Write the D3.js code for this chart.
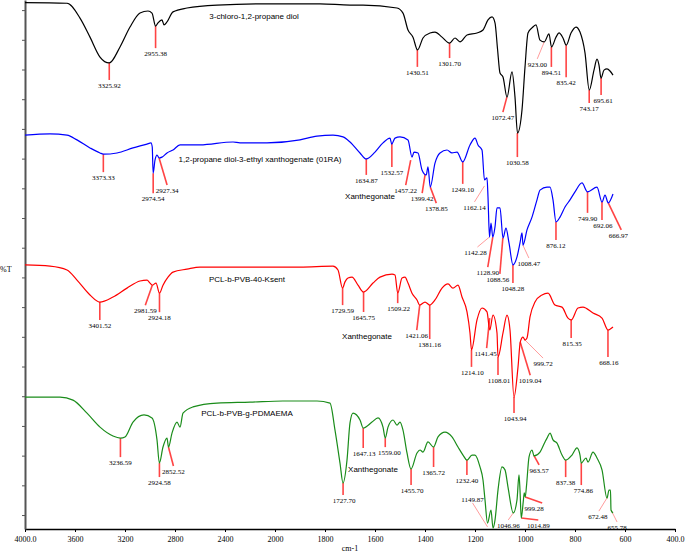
<!DOCTYPE html>
<html>
<head>
<meta charset="utf-8">
<script src="https://cdn.jsdelivr.net/npm/d3@7"></script>
<style>
body { margin: 0; background: #fff; }
.peak { font-family: "Liberation Serif", "Times New Roman", serif; font-size: 7px; fill: #000; }
.name { font-family: "Liberation Sans", Arial, sans-serif; font-size: 8px; fill: #000; }
.tick text { font-family: "Liberation Serif", "Times New Roman", serif; font-size: 8px; }
</style>
</head>
<body>
<svg></svg>
<script>
const width = 685;
const height = 552;

// spectra: [wavenumber cm-1, stacked %T]
const chloroDiol = [[4000,172.5],[3664,172.3],[3560,167.3],[3480,160.9],[3400,154.2],[3326,152.2],[3240,157.6],[3160,164.3],[3080,169.0],[3016,169.7],[2984,169.0],[2955,164.6],[2936,165.7],[2904,166.7],[2888,165.0],[2864,166.0],[2816,169.4],[2704,170.7],[2464,171.7],[2064,172.1],[1820,172.1],[1700,171.7],[1648,171.7],[1512,170.7],[1488,169.0],[1468,163.3],[1448,160.9],[1430,156.6],[1408,160.6],[1380,162.3],[1360,162.6],[1332,160.9],[1302,158.9],[1280,160.6],[1260,159.3],[1232,161.6],[1192,162.3],[1168,163.3],[1148,166.7],[1132,167.7],[1120,165.7],[1110,157.0],[1100,148.8],[1088,147.5],[1072,140.7],[1052,149.2],[1040,140.7],[1030,128.6],[1012,136.4],[1000,150.8],[988,162.3],[972,164.0],[956,165.0],[940,159.9],[923,159.3],[904,162.0],[894,157.6],[876,160.9],[864,162.3],[848,160.6],[835,158.2],[816,162.3],[796,164.3],[780,162.6],[760,155.6],[743,143.1],[724,149.8],[712,153.5],[704,151.5],[696,147.1],[684,149.8],[672,150.2],[660,149.5],[648,148.1]];

const xanthogenate = [[4000,127.9],[3800,128.3],[3664,127.9],[3584,126.3],[3480,123.6],[3400,121.9],[3373,121.5],[3264,121.9],[3136,123.6],[3024,124.9],[2992,125.3],[2982,123.9],[2975,115.1],[2960,119.5],[2944,121.2],[2927,120.2],[2904,120.5],[2864,121.9],[2816,122.9],[2760,124.6],[2600,124.6],[2336,125.6],[2280,125.3],[2064,125.3],[1900,126.3],[1832,127.6],[1768,127.9],[1728,127.3],[1700,125.6],[1660,121.9],[1635,119.9],[1600,122.2],[1568,125.3],[1540,126.9],[1533,124.9],[1520,126.9],[1500,127.3],[1468,126.3],[1452,120.5],[1444,122.2],[1428,121.9],[1412,116.2],[1395,114.5],[1388,117.2],[1379,110.4],[1360,118.5],[1340,121.9],[1312,122.9],[1292,121.9],[1272,122.2],[1249,118.9],[1220,124.6],[1200,126.9],[1188,124.6],[1172,122.9],[1162,112.8],[1152,113.5],[1148,107.1],[1142,93.6],[1136,98.3],[1129,93.6],[1120,97.0],[1112,103.4],[1100,103.4],[1088,93.3],[1076,96.6],[1064,91.6],[1048,84.2],[1032,86.9],[1020,91.6],[1012,95.0],[1008,90.9],[992,96.0],[972,100.3],[952,106.1],[940,109.4],[912,110.4],[900,110.4],[888,106.1],[876,98.7],[860,100.3],[840,103.7],[820,106.1],[800,108.8],[772,111.8],[750,108.8],[712,110.4],[692,105.4],[680,107.7],[667,105.1],[648,108.1]];

const pclKsent = [[4000,84.2],[3800,83.8],[3664,82.5],[3584,79.1],[3480,74.1],[3402,71.7],[3296,73.4],[3184,76.4],[3080,78.8],[3024,79.1],[3000,78.1],[2982,77.4],[2952,78.1],[2924,74.7],[2896,77.4],[2856,80.1],[2816,81.8],[2704,82.8],[2600,83.5],[2336,83.5],[2064,83.5],[1900,83.5],[1768,83.8],[1748,82.5],[1730,76.4],[1720,78.5],[1708,79.8],[1692,80.1],[1668,77.4],[1646,75.1],[1608,78.1],[1580,80.1],[1532,81.1],[1520,80.8],[1509,74.7],[1492,79.8],[1480,80.1],[1468,78.1],[1452,74.7],[1432,72.4],[1421,70.7],[1400,71.7],[1381,70.7],[1360,72.4],[1332,76.4],[1308,77.8],[1288,76.4],[1268,77.4],[1252,73.4],[1232,68.4],[1220,61.3],[1214,55.6],[1192,65.7],[1172,69.7],[1152,68.4],[1141,62.3],[1128,67.3],[1112,61.3],[1108,53.2],[1088,61.3],[1072,67.3],[1060,62.3],[1044,39.7],[1028,49.8],[1019,58.2],[1008,59.9],[1000,58.9],[992,59.6],[980,66.7],[960,71.7],[932,74.1],[908,74.7],[880,70.7],[852,70.0],[828,66.3],[815,65.7],[788,69.7],[768,70.0],[728,68.0],[692,66.3],[668,62.3],[648,63.3]];

const pclPdmaema = [[4000,39.7],[3720,39.7],[3616,38.7],[3504,34.3],[3400,29.6],[3296,26.6],[3237,25.9],[3200,26.3],[3136,31.3],[3048,33.7],[2984,32.7],[2944,25.3],[2925,17.5],[2896,22.9],[2864,25.9],[2852,22.9],[2824,27.6],[2784,31.3],[2760,29.6],[2736,34.3],[2656,36.4],[2464,37.7],[2200,38.0],[1968,38.4],[1832,38.4],[1780,37.7],[1760,28.6],[1740,17.5],[1728,10.8],[1712,18.5],[1700,31.0],[1688,34.3],[1660,32.0],[1647,29.3],[1612,31.3],[1588,32.7],[1568,29.6],[1559,25.9],[1548,29.6],[1528,32.0],[1512,30.3],[1500,31.3],[1488,28.6],[1472,20.9],[1456,15.5],[1432,20.9],[1420,21.9],[1408,21.2],[1388,24.6],[1366,22.9],[1348,26.3],[1320,27.9],[1292,26.3],[1268,22.9],[1248,20.2],[1232,18.5],[1212,20.2],[1200,20.2],[1180,16.2],[1168,11.8],[1160,5.1],[1150,-2.7],[1136,1.7],[1128,-4.4],[1120,-1.7],[1108,8.4],[1092,16.2],[1080,15.2],[1068,9.4],[1047,0.7],[1032,5.1],[1024,13.5],[1020,8.4],[1015,-1.0],[1007,4.5],[1003,7.5],[999,6.1],[994,9.8],[984,19.5],[972,21.9],[964,19.9],[940,21.2],[920,24.6],[912,25.9],[900,27.6],[888,25.3],[872,24.2],[852,20.2],[837,18.5],[812,20.2],[792,22.6],[780,20.2],[775,17.5],[756,19.2],[748,17.8],[728,21.2],[712,19.2],[692,15.2],[672,5.7],[664,8.4],[658,8.4],[656,1.7],[648,0.7]];

// labelled peaks: [wavenumber, %T at the tip]
const chloroPeaks = [[3325.92,152.2],[2955.38,164.6],[1430.51,156.6],[1301.70,158.9],[1072.47,140.7],[1030.58,128.6],[923.00,159.3],[894.51,157.6],[835.42,158.2],[743.17,143.1],[695.61,147.1]];
const xanthPeaks = [[3373.33,121.5],[2974.54,115.1],[2927.34,120.2],[1634.87,119.9],[1532.57,124.9],[1457.22,119.5],[1399.42,114.8],[1378.85,110.4],[1249.10,118.9],[1162.14,110.8],[1142.28,93.6],[1128.90,93.6],[1088.56,93.3],[1048.28,84.2],[1008.47,90.9],[876.12,98.7],[749.90,108.8],[692.06,105.4],[666.97,105.1]];
const ksentPeaks = [[3401.52,71.7],[2981.59,77.4],[2924.18,74.7],[1729.59,76.4],[1645.75,75.1],[1509.22,74.7],[1421.06,70.7],[1381.16,70.7],[1214.10,55.6],[1141.45,66.3],[1108.01,53.2],[1043.94,39.7],[1019.04,58.2],[999.72,58.9],[815.35,65.7],[668.16,62.3]];
const pdmaemaPeaks = [[3236.59,25.9],[2924.58,17.5],[2852.52,22.9],[1727.70,10.8],[1647.13,29.3],[1559.00,25.9],[1455.70,15.5],[1365.72,22.9],[1232.40,18.5],[1149.87,-4.0],[1046.96,0.7],[1014.89,-1.0],[999.28,6.1],[963.57,19.9],[837.38,18.5],[774.86,17.5],[672.48,5.7],[655.78,1.7]];

// leader layout in px: [dx, dy, text dx, thin]
const chloroLeaders = [[0,17],[0,22],[0,17],[0,15],[-4,15],[0,24],[-7,17,0,1],[0,20],[0,32],[0,13],[0,17,2]];
const xanthLeaders = [[0,18],[0,20],[8,27],[0,16],[0,23],[-5,25],[-3,19],[6,16],[0,22],[-10,16,0,1],[-12,10,-2,1],[-5,30],[-3,36,-2],[0,18],[6,13,0,1],[0,18],[0,21],[0,18,1],[13,27,-3]];
const ksentLeaders = [[0,18],[-7,20],[0,19],[0,17],[0,20],[0,10,1],[-3,25],[0,34],[0,17,1],[-3,30,-1],[0,18,1],[0,16,1],[10,33],[18,18,0,1],[0,18,1],[0,27,1]];
const pdmaemaLeaders = [[0,19],[0,14],[5,19],[0,12,1],[0,20,1],[0,9,4],[0,16,1],[0,20],[0,15],[-15,-24,0,1],[-5,7,0,1],[17,2],[17,6,-8],[5,9],[0,17],[0,22,2],[-8,13,-1,1],[6,12,0,1]];

const names = ["3-chloro-1,2-propane diol", "1,2-propane diol-3-ethyl xanthogenate (01RA)", "PCL-b-PVB-40-Ksent", "PCL-b-PVB-g-PDMAEMA"];
const namePos = [[2168,168.0],[2120,119.9],[2224,79.5],[2224,34.3]];
const xanthNotes = [[1620,107.4],[1632,60.3],[1608,15.5]];
const colors = ["#000000", "#0000ff", "#ff0000", "#1a8c1a"];

const xTicks = [4000,3600,3200,2800,2400,2000,1800,1600,1400,1200,1000,800,600,400];
const yTicks = d3.range(0, 171, 10);

let svg = d3.select("svg").attr("width", width).attr("height", height);

// split wavenumber axis: 4000-2000 compressed
const scaleX = d3.scaleLinear().domain([4000, 2000, 400]).range([25, 275, 675]);
const scaleY = d3.scaleLinear().domain([-4.7, 173.4]).range([529, 0]);

function createAxis() {
    let axisX = d3.axisBottom(scaleX)
        .tickValues(xTicks)
        .tickSize(3)
        .tickSizeOuter(0)
        .tickPadding(4)
        .tickFormat(d => (d === 4000 || d === 400) ? d.toFixed(1) : d);
    let gx = svg.append("g")
        .attr("transform", "translate(0, 529)")
        .call(axisX);
    gx.select(".domain").attr("stroke", "#000").attr("stroke-width", 1.5);

    let axisY = d3.axisLeft(scaleY).tickValues(yTicks).tickSize(3).tickSizeOuter(0).tickFormat("");
    let gy = svg.append("g")
        .attr("transform", "translate(25, 0)")
        .call(axisY);
    gy.select(".domain").attr("stroke", "#555").attr("stroke-width", 2);
    gy.selectAll(".tick line").attr("stroke", "#555");

    svg.append("text").attr("x", 0).attr("y", 272)
        .style("font-family", "Liberation Serif, serif").style("font-size", "8px").text("%T");
    svg.append("text").attr("x", 350).attr("y", 551).attr("text-anchor", "middle")
        .style("font-family", "Liberation Serif, serif").style("font-size", "8px").text("cm-1");
}

function drawLeaders(peaks, leaders) {
    peaks.forEach((p, i) => {
        const [dx, dy, tdx = 0, thin = 0] = leaders[i];
        const x0 = scaleX(p[0]);
        const y0 = scaleY(p[1]);
        svg.append("line")
            .attr("x1", x0).attr("y1", y0)
            .attr("x2", x0 + dx).attr("y2", y0 + dy)
            .attr("stroke", thin ? "#ff9c9c" : "#ff4444")
            .attr("stroke-width", thin ? 1 : 1.6);
        svg.append("text")
            .attr("class", "peak")
            .attr("x", x0 + dx + tdx)
            .attr("y", dy > 0 ? y0 + dy + 8 : y0 + dy - 1)
            .attr("text-anchor", "middle")
            .text(p[0].toFixed(2));
    });
}

function drawSpectrum(data, color) {
    let line = d3.line()
        .x(d => scaleX(d[0]))
        .y(d => scaleY(d[1]))
        .curve(d3.curveMonotoneX);
    svg.append("path")
        .datum(data)
        .attr("d", line)
        .attr("fill", "none")
        .attr("stroke", color)
        .attr("stroke-width", 1.2);
}

createAxis();

const spectra = [chloroDiol, xanthogenate, pclKsent, pclPdmaema];
const peakSets = [chloroPeaks, xanthPeaks, ksentPeaks, pdmaemaPeaks];
const leaderSets = [chloroLeaders, xanthLeaders, ksentLeaders, pdmaemaLeaders];

for (let i = 0; i < spectra.length; i++) {
    drawLeaders(peakSets[i], leaderSets[i]);
    drawSpectrum(spectra[i], colors[i]);
    svg.append("text")
        .attr("class", "name")
        .attr("x", scaleX(namePos[i][0]))
        .attr("y", scaleY(namePos[i][1]))
        .attr("dy", "0.35em")
        .attr("text-anchor", "middle")
        .text(names[i]);
}

xanthNotes.forEach(d => {
    svg.append("text")
        .attr("class", "name")
        .attr("x", scaleX(d[0]))
        .attr("y", scaleY(d[1]))
        .attr("dy", "0.35em")
        .attr("text-anchor", "middle")
        .text("Xanthegonate");
});
</script>
</body>
</html>
